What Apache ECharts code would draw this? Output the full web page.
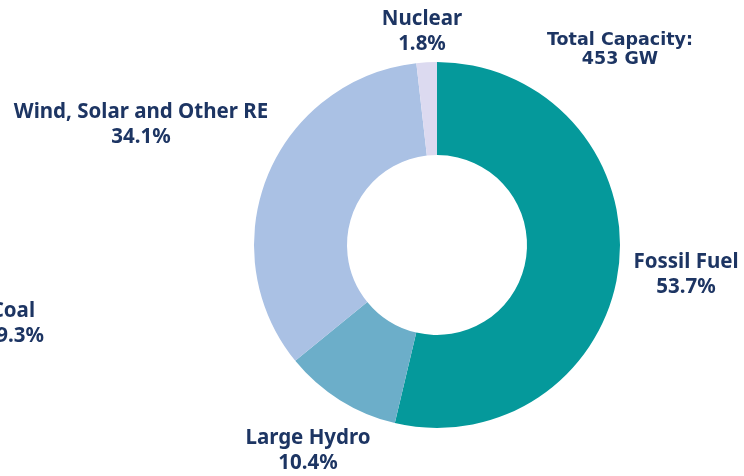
<!DOCTYPE html>
<html>
<head>
<meta charset="utf-8">
<script src="https://cdn.jsdelivr.net/npm/echarts@6/dist/echarts.min.js"></script>
<style>
  html, body { margin: 0; padding: 0; background: #ffffff; }
  #chart { width: 744px; height: 476px; }
</style>
</head>
<body>
<div id="chart"></div>
<script>
// Installed capacity mix (share of total, %)
const categories = ['Fossil Fuel', 'Large Hydro', 'Wind, Solar and Other RE', 'Nuclear'];
const shares = [53.7, 10.4, 34.1, 1.8];
const sliceColors = ['#05999b', '#6caec9', '#aac1e4', '#dcdaf0'];
// Where each category's label block sits (centre of the two-line text)
const labelSpots = [[686, 275], [308, 451], [141, 125], [422, 32]];
const totalText = ['Total Capacity:', '453 GW'];
const coalText = ['Coal', '9.3%'];

const navy = '#1d3563';
const labelFont = '"Noto Sans", sans-serif';

const chart = echarts.init(document.getElementById('chart'), null, { renderer: 'canvas' });

chart.setOption({
  backgroundColor: '#ffffff',
  animation: false,
  series: [{
    type: 'pie',
    center: [437, 245],
    radius: [90, 183],
    startAngle: 90,
    clockwise: true,
    avoidLabelOverlap: false,
    silent: true,
    data: categories.map((name, i) => ({
      name: name,
      value: shares[i],
      itemStyle: { color: sliceColors[i] }
    })),
    label: {
      show: true,
      formatter: p => p.name + '\n' + p.value.toFixed(1) + '%',
      color: navy,
      fontFamily: labelFont,
      fontWeight: 'bold',
      fontSize: 20.5,
      lineHeight: 25,
      align: 'center'
    },
    labelLine: { show: false },
    labelLayout: p => ({
      x: labelSpots[p.dataIndex][0],
      y: labelSpots[p.dataIndex][1],
      align: 'center',
      verticalAlign: 'middle'
    })
  }],
  graphic: [
    {
      type: 'text',
      style: {
        text: totalText.join('\n'),
        x: 620, y: 50,
        textAlign: 'center',
        textVerticalAlign: 'middle',
        fill: navy,
        font: 'bold 17.5px "DejaVu Sans", sans-serif',
        lineHeight: 19
      }
    },
    {
      type: 'text',
      style: {
        x: 35, y: 311,
        text: coalText[0],
        textAlign: 'right',
        textVerticalAlign: 'middle',
        fill: navy,
        font: 'bold 20.5px "Noto Sans", sans-serif'
      }
    },
    {
      type: 'text',
      style: {
        x: 44, y: 336,
        text: coalText[1],
        textAlign: 'right',
        textVerticalAlign: 'middle',
        fill: navy,
        font: 'bold 20.5px "Noto Sans", sans-serif'
      }
    }
  ]
});
</script>
</body>
</html>
